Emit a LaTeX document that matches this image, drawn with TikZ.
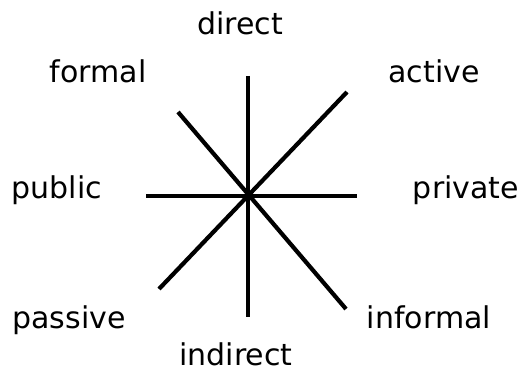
\documentclass[tikz,border=0pt]{standalone}
\usepackage{fontspec}
\setmainfont{DejaVu Sans}
\tikzstyle{lab}=[anchor=base,inner sep=0pt,font=\fontsize{30}{35}\selectfont]
\tikzstyle{spoke}=[line width=4.2pt]

\begin{document}
\begin{tikzpicture}[x=1pt,y=-1pt]
\useasboundingbox (0,0) rectangle (524,371);
\coordinate (N) at (248,76);
\coordinate (S) at (248,317);
\coordinate (W) at (146,196);
\coordinate (E) at (357,196);
\coordinate (NW) at (178,112);
\coordinate (SE) at (346,309);
\coordinate (NE) at (347,92);
\coordinate (SW) at (159,289);
\node[lab] (direct) at (240,35) {direct};
\node[lab] (formal) at (98,83) {formal};
\node[lab] (active) at (434,83) {active};
\node[lab] (public) at (57,199) {public};
\node[lab] (private) at (466,199) {private};
\node[lab] (passive) at (69,328) {passive};
\node[lab] (informal) at (429,328) {informal};
\node[lab] (indirect) at (236,365) {indirect};
\draw[spoke] (N) -- (S);
\draw[spoke] (W) -- (E);
\draw[spoke] (NW) -- (SE);
\draw[spoke] (NE) -- (SW);
\end{tikzpicture}
\end{document}
